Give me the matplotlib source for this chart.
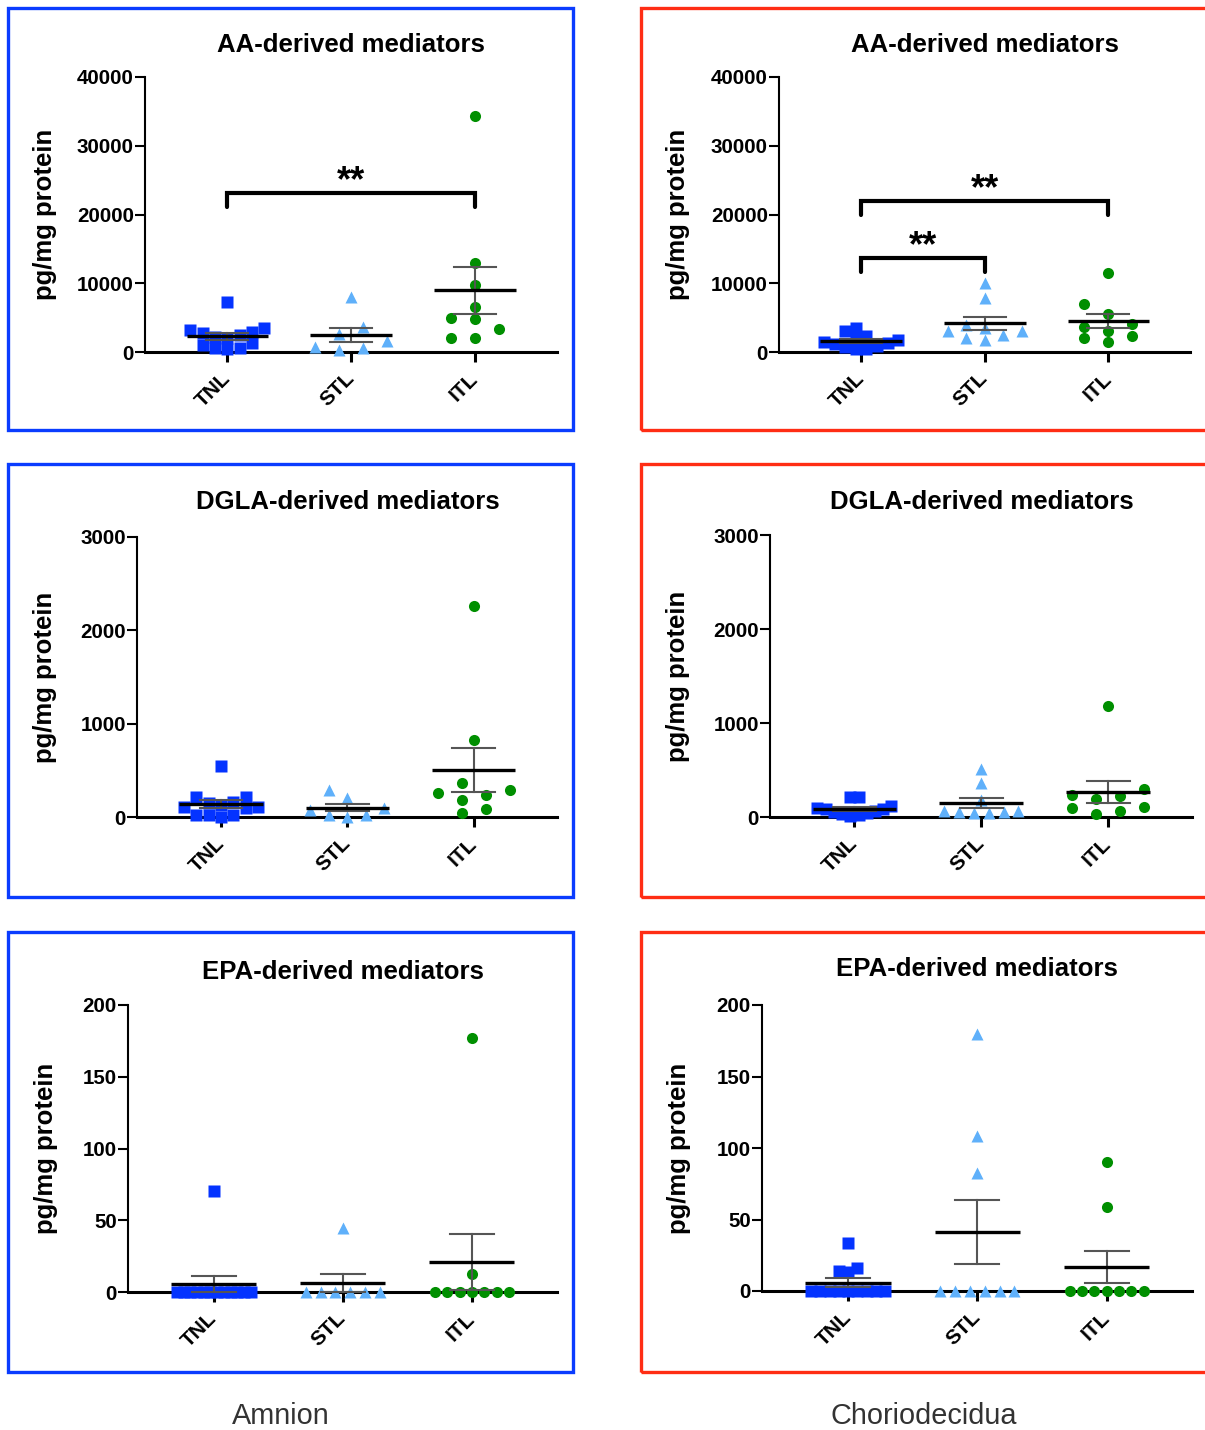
import numpy as np
import matplotlib
matplotlib.use('Agg')
import matplotlib.pyplot as plt
import matplotlib.transforms as mtransforms
from matplotlib.patches import Rectangle

plt.rcParams['font.family'] = ['Liberation Sans', 'DejaVu Sans']

groups = ['TNL', 'STL', 'ITL']

# AA-derived mediators
aa_amn_tnl = [7300, 3440, 3200, 2960, 2710, 2470, 2230, 1990, 1260, 1020, 530, 530, 400]
aa_amn_stl = [8050, 3680, 2620, 1600, 680, 530, 290]
aa_amn_itl = [34300, 12990, 9750, 6590, 4900, 4750, 3300, 2080, 2080]
aa_cho_tnl = [3540, 3100, 2300, 2000, 1700, 1500, 1300, 1100, 900, 700, 500, 400]
aa_cho_stl = [9990, 7900, 3930, 3540, 3100, 3100, 2470, 1990, 1750]
aa_cho_itl = [11540, 6930, 5480, 4020, 3690, 3050, 2370, 2080, 1400]

# DGLA-derived mediators
dgla_amn_tnl = [550, 211, 211, 164, 147, 129, 110, 110, 93, 21, 21, 21, 4]
dgla_amn_stl = [289, 207, 93, 75, 21, 21, 3]
dgla_amn_itl = [2260, 825, 361, 289, 254, 236, 182, 82, 39]
dgla_cho_tnl = [216, 216, 120, 100, 90, 80, 60, 50, 40, 30, 20, 10]
dgla_cho_stl = [507, 358, 180, 64, 64, 57, 50, 38, 38]
dgla_cho_itl = [1184, 295, 234, 227, 191, 103, 99, 67, 29]

# EPA-derived mediators
epa_amn_tnl = [70.6, 0, 0, 0, 0, 0, 0, 0, 0, 0, 0, 0, 0]
epa_amn_stl = [44.4, 0, 0, 0, 0, 0, 0]
epa_amn_itl = [177, 12.5, 0, 0, 0, 0, 0, 0, 0]
epa_cho_tnl = [33.8, 16.3, 14.0, 13.1, 0, 0, 0, 0, 0, 0, 0, 0, 0]
epa_cho_stl = [179.6, 108.3, 82.5, 0, 0, 0, 0, 0, 0]
epa_cho_itl = [90, 58.5, 0, 0, 0, 0, 0, 0, 0]

aa_ticks = [0, 10000, 20000, 30000, 40000]
dgla_ticks = [0, 1000, 2000, 3000]
epa_ticks = [0, 50, 100, 150, 200]

# significance brackets: (from group, to group, height, label)
aa_amn_sig = [(0, 2, 23130, '**')]
aa_cho_sig = [(0, 1, 13670, '**'), (0, 2, 21960, '**')]

W, H = 1205, 1430
fig = plt.figure(figsize=(W / 100, H / 100), dpi=100)

blue_box = '#0a3cff'
red_box = '#ff2d14'
colors = ['#0433ff', '#5fb0fa', '#008f00']
markers = ['s', '^', 'o']
msizes = [8.4, 8.2, 8.0]
XLIM = (-0.665, 2.66)


def swarm(vals, ymax, h_px, px_per_x, gap_px=10.5, max_step=24, span_px=74):
    # GraphPad-like scatter: points take the free grid slot nearest the centre
    vals = np.asarray(vals, float)
    ypx = vals / ymax * h_px
    order = np.argsort(ypx, kind='stable')
    n = len(vals)
    xs = np.zeros(n)
    for k in range(1, n + 1):
        step = 0 if k == 1 else min(max_step, span_px / (k - 1))
        offs = [(j - (k - 1) / 2) * step for j in range(k)]
        slots = sorted(range(k), key=lambda j: (abs(offs[j]), offs[j]))
        filled = {j: [] for j in range(k)}
        xs = np.zeros(n)
        ok = True
        for i in order:
            for j in slots:
                if all(abs(ypx[i] - y) >= gap_px for y in filled[j]):
                    filled[j].append(ypx[i])
                    xs[i] = offs[j] / px_per_x
                    break
            else:
                ok = False
                break
        if ok:
            break
    # lone points sit on the centre line
    for i in range(n):
        if all(abs(ypx[i] - ypx[j]) >= gap_px for j in range(n) if j != i):
            xs[i] = 0
    return xs


def panel(box, title, series, ticks, title_base, ylab_x, sig=()):
    x0, x1, ytop, ybot = box
    ax = fig.add_axes([x0 / W, 1 - ybot / H, (x1 - x0) / W, (ybot - ytop) / H])
    ymax = ticks[-1]
    ax.set_xlim(*XLIM)
    ax.set_ylim(0, ymax)
    h_px = ybot - ytop
    px_per_x = (x1 - x0) / (XLIM[1] - XLIM[0])

    for i, vals in enumerate(series):
        v = np.asarray(vals, float)
        xs = i + swarm(v, ymax, h_px, px_per_x)
        ax.plot(xs, v, ls='none', marker=markers[i], ms=msizes[i], mfc=colors[i],
                mec='none', clip_on=False, zorder=3)
        m = v.mean()
        s = v.std(ddof=1) / np.sqrt(len(v))
        ax.plot([i, i], [m - s, m + s], color='#555555', lw=1.5, zorder=4, clip_on=False)
        for yy in (m - s, m + s):
            ax.plot([i - 0.17, i + 0.17], [yy, yy], color='#555555', lw=1.5, zorder=4,
                    clip_on=False)
        ax.plot([i - 0.33, i + 0.33], [m, m], color='black', lw=2.4, zorder=5,
                solid_capstyle='butt', clip_on=False)

    for a, b, yb, lab in sig:
        drop = ymax * 14 / h_px
        ax.plot([a, a, b, b], [yb - drop, yb, yb, yb - drop], color='black', lw=3,
                solid_joinstyle='miter', solid_capstyle='round', clip_on=False)
        ax.text((a + b) / 2, yb + ymax * 2 / h_px, lab, ha='center', va='baseline',
                fontsize=26, fontweight='bold')

    for side in ('top', 'right'):
        ax.spines[side].set_visible(False)
    ax.spines['left'].set_linewidth(1.5)
    ax.spines['bottom'].set_linewidth(2.2)
    ax.spines['bottom'].set_zorder(2)
    ax.set_yticks(ticks)
    ax.set_yticklabels([str(t) for t in ticks], fontsize=14.8, fontweight='bold')
    ax.tick_params(axis='y', length=7, width=1.5, pad=1)
    ax.set_xticks([0, 1, 2])
    ax.set_xticklabels(groups, fontsize=15, fontweight='bold', rotation=45,
                       ha='right', va='center', rotation_mode='anchor')
    ax.tick_params(axis='x', length=7, width=2.2, pad=10)

    ax.set_ylabel('pg/mg protein', fontsize=18.5, fontweight='bold')
    ax.yaxis.set_label_coords((ylab_x - x0) / (x1 - x0), 0.5)

    trans = mtransforms.blended_transform_factory(ax.transData, ax.transAxes)
    ax.text(1, (ybot - title_base) / h_px, title, transform=trans, ha='center',
            va='baseline', fontsize=18.5, fontweight='bold')
    return ax


panel((145, 557, 77, 352), 'AA-derived mediators', [aa_amn_tnl, aa_amn_stl, aa_amn_itl],
      aa_ticks, 52, 57, aa_amn_sig)
panel((779, 1190, 77, 352), 'AA-derived mediators', [aa_cho_tnl, aa_cho_stl, aa_cho_itl],
      aa_ticks, 52, 690, aa_cho_sig)
panel((137, 557, 537, 817), 'DGLA-derived mediators', [dgla_amn_tnl, dgla_amn_stl, dgla_amn_itl],
      dgla_ticks, 509, 57)
panel((770, 1192, 535, 817), 'DGLA-derived mediators', [dgla_cho_tnl, dgla_cho_stl, dgla_cho_itl],
      dgla_ticks, 509, 690)
panel((128, 557, 1005, 1292), 'EPA-derived mediators', [epa_amn_tnl, epa_amn_stl, epa_amn_itl],
      epa_ticks, 979, 58)
panel((762, 1192, 1005, 1291), 'EPA-derived mediators', [epa_cho_tnl, epa_cho_stl, epa_cho_itl],
      epa_ticks, 976, 691)

# coloured frames around each panel
rows_px = [(8, 430), (464, 897), (932, 1372)]
for yt, yb in rows_px:
    for xl, xr, col in [(8, 573, blue_box), (641, 1212, red_box)]:
        fig.patches.append(Rectangle((xl / W, 1 - yb / H), (xr - xl) / W, (yb - yt) / H,
                                     transform=fig.transFigure, fill=False, edgecolor=col,
                                     lw=2.4, zorder=0))

fig.text(281 / W, 1 - 1424 / H, 'Amnion', ha='center', va='baseline', fontsize=20.8,
         color='#333333')
fig.text(924 / W, 1 - 1424 / H, 'Choriodecidua', ha='center', va='baseline', fontsize=20.8,
         color='#333333')

fig.savefig('out.png', dpi=100)
